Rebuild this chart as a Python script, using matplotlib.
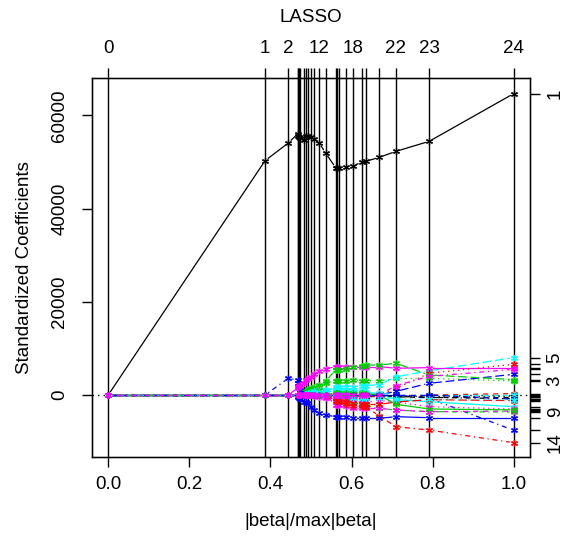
import numpy as np
import matplotlib
matplotlib.use("Agg")
import matplotlib.pyplot as plt

plt.rcParams['font.family'] = ['Liberation Sans', 'DejaVu Sans']

# ── Data: LASSO path (fraction of |beta| and standardized coefficients) ──
steps = [0, 0.3868, 0.4441, 0.4669, 0.4689, 0.4708, 0.4728, 0.4817, 0.4876,
         0.4932, 0.4999, 0.5080, 0.5203, 0.5358, 0.5613, 0.5653, 0.5694,
         0.5859, 0.6031, 0.6252, 0.6350, 0.6685, 0.7095, 0.7913, 1.0]

top_labels = {0: "0", 1: "1", 2: "2", 12: "12", 18: "18", 22: "22", 23: "23", 24: "24"}
right_labels = ["1", "5", "3", "9", "14"]

coefs = [
    [0, 50270, 54070, 56000, 55600, 55300, 55100, 54630, 55640, 55640, 55300, 54930, 54070,
     51920, 48700, 48700, 48750, 48990, 49190, 49900, 50120, 50980, 52270, 54410, 64660],
    [0, 0, 0, 0, 0, 0, 0, 0, 0, 0, 0, 0, 0,
     -300, -600, -600, -700, -700, -600, -500, -400, -300, 0, 0, 300],
    [0, 0, 0, 0, 0, 0, 0, 600, 900, 1200, 1500, 1800, 2200,
     2600, 3000, 3000, 3000, 3100, 3220, 3100, 3050, 3010, 3580, 3580, 3010],
    [0, 0, 3590, 3220, 2500, 1800, 1000, 0, 0, 0, 0, 0, 0,
     0, 0, 0, 0, 0, 0, 0, 0, 0, 0, -700, -7590],
    [0, 0, 0, 0, 0, 0, 0, 0, 0, 0, 0, 0, 0,
     800, 1790, 1790, 1800, 1790, 1790, 1900, 2000, 2200, 3900, 5200, 8020],
    [0, 0, 0, 1500, 1800, 2000, 2200, 2600, 3200, 3600, 3800, 4500, 5200,
     5600, 6090, 6090, 6090, 6090, 6090, 6090, 6090, 6090, 5730, 5870, 5870],
    [0, 0, 0, 0, 0, 0, 0, 0, 0, 0, 0, 0, 0,
     0, 0, 0, 0, 0, 0, 0, 0, 0, -400, -500, -500],
    [0, 0, 0, 0, 0, 0, 0, 0, 0, 0, 0, 0, 0,
     0, 0, 0, 0, 0, 0, 0, 0, 0, 1430, 4660, 6590],
    [0, 0, 0, 0, 0, 0, 0, 0, 0, 0, 0, 0, 0,
     0, 0, 0, 0, -1000, -1500, -2000, -2200, -2860, -3220, -3580, -3650],
    [0, 0, 0, 0, 0, 0, 0, 0, 0, 0, 0, 0, 0,
     0, 0, 0, 0, 0, 0, 0, 0, 0, 800, 2510, 4440],
    [0, 0, 0, 0, 0, 0, 0, 0, 300, 500, 700, 900, 1000,
     1100, 1200, 1200, 1200, 1100, 1000, 800, 600, 200, -1000, -1430, -2510],
    [0, 0, 0, 0, 0, 0, 0, 0, 0, 0, 0, 0, 0,
     0, -2150, -2150, -2200, -2360, -2860, -2860, -2860, -2860, -3220, -3580, -3450],
    [0, 0, 0, 0, 0, 0, 0, 0, 0, 0, 0, 0, 0,
     0, 0, 0, 0, 0, -300, -300, -300, -300, -200, -200, -200],
    [0, 0, 0, 0, 0, 0, 0, 0, 0, 0, 0, 0, 0,
     0, 0, -800, -1200, -2000, -2360, -2360, -2500, -4500, -6800, -7520, -10240],
    [0, 0, 0, 0, 0, 0, 0, 0, 0, 0, 0, 0, 1000,
     3000, 5370, 5370, 5400, 5500, 5900, 6200, 6400, 6440, 6800, 4300, 3300],
    [0, 0, 0, -200, -400, -600, -900, -1430, -1600, -1790, -2510, -3220, -3900,
     -4300, -4650, -4650, -4700, -4800, -5010, -5010, -5010, -5010, -4650, -4870, -4870],
    [0, 0, 0, 0, 0, 0, 0, 0, 0, 0, 300, 500, 600,
     700, 800, 800, 800, 700, 600, 500, 400, 400, 0, 0, 0],
    [0, 0, 0, 0, 0, 0, 0, 0, 0, 0, 0, -200, -500,
     -700, -900, -900, -900, -900, -1000, -1100, -1200, -1200, -1500, -2500, -3000],
    [0, 0, 0, 0, 0, 0, 0, 0, 0, 0, 0, 0, 0,
     0, 0, 0, 0, 0, 0, 0, -150, -150, -300, -500, -800],
    [0, 0, 0, 0, 0, 0, 0, 0, 0, 0, 0, 0, 0,
     0, -1200, -1300, -1400, -1600, -1800, -1900, -2000, -2000, -1500, -1000, -1200],
    [0, 0, 0, 0, 0, 0, 0, 0, 0, 0, 0, 0, 0,
     0, 500, 500, 500, 500, 500, 400, 300, 0, -2000, -3000, -3200],
    [0, 0, 0, 0, 0, 0, 0, 0, 0, 0, 0, 0, 0,
     0, 0, 0, 0, 0, 0, 0, 0, 0, 0, 0, -900],
    [0, 0, 0, 0, 0, 0, 0, 0, 0, 0, 0, 0, 0,
     0, 0, 0, 0, 0, -600, -600, -600, -700, -800, -900, -1000],
    [0, 0, 0, 0, 0, 0, 0, 0, 0, 0, 0, 0, 0,
     0, 0, 0, 0, 0, 0, 0, 0, 0, 2000, 4000, 5500],
]

# R default palette and line types, recycled like matplot()
palette = ["black", "#FF0000", "#00CD00", "#0000FF", "#00FFFF", "#FF00FF"]
ltys = ["-", (0, (4, 4)), (0, (1, 3)), (0, (1, 3, 4, 3)), (0, (7, 3))]

W, H = 566, 537
fig = plt.figure(figsize=(W / 100, H / 100), dpi=100)
ax = fig.add_axes([92 / W, 1 - 457 / H, (530 - 92) / W, (457 - 78) / H])

ax.set_xlim(-0.04, 1.04)
ax.set_ylim(-13300, 68000)

x = np.array(steps)
C = np.array(coefs, dtype=float)

# vertical lines at each step, dotted zero line
for s in steps:
    ax.axvline(s, color="black", lw=1.0, zorder=1)
ax.axhline(0, color="black", lw=1.0, linestyle=(0, (1, 3)), zorder=1)

# type="b": segments with a gap around every point
T = ax.transData
Tinv = T.inverted()
gap = 4.0
for i, row in enumerate(C):
    col = palette[i % 6]
    ls = ltys[i % 5]
    for j in range(len(x) - 1):
        p0 = T.transform((x[j], row[j]))
        p1 = T.transform((x[j + 1], row[j + 1]))
        d = p1 - p0
        L = np.hypot(*d)
        if L <= 2 * gap:
            continue
        u = d / L
        q = Tinv.transform(np.array([p0 + u * gap, p1 - u * gap]))
        ax.plot(q[:, 0], q[:, 1], color=col, lw=0.9, linestyle=ls, zorder=2)
    ax.plot(x, row, linestyle="none", marker=(6, 2, 0), ms=5, mew=0.9,
            color=col, zorder=3)

for sp in ax.spines.values():
    sp.set_linewidth(1.0)

fs = 13.5
ax.set_xticks([0, 0.2, 0.4, 0.6, 0.8, 1.0])
ax.set_xticklabels(["0.0", "0.2", "0.4", "0.6", "0.8", "1.0"])
ax.set_yticks([0, 20000, 40000, 60000])
ax.set_yticklabels(["0", "20000", "40000", "60000"], rotation=90, va="center")
ax.tick_params(length=7, width=1.0, labelsize=fs, pad=10)
ax.tick_params(axis="x", pad=7)

# top axis: step numbers
axt = ax.twiny()
axt.set_xlim(ax.get_xlim())
axt.set_xticks(steps)
axt.set_xticklabels([top_labels.get(k, "") for k in range(len(steps))])
axt.tick_params(length=7, width=1.0, labelsize=fs, pad=8)

# right axis: variable numbers at final coefficients
axr = ax.twinx()
axr.set_ylim(ax.get_ylim())
final = C[:, -1]
axr.set_yticks(final)
axr.set_yticklabels([str(k + 1) if str(k + 1) in right_labels else ""
                     for k in range(len(final))], rotation=90, va="center")
axr.tick_params(length=7, width=1.0, labelsize=fs, pad=5)

fig.text(311 / W, 1 - 18 / H, "LASSO", ha="center", va="center", fontsize=fs)
fig.text(311 / W, 1 - 522 / H, "|beta|/max|beta|", ha="center", va="center", fontsize=fs)
fig.text(25 / W, 1 - 268 / H, "Standardized Coefficients", ha="center", va="center",
         rotation=90, fontsize=fs)

fig.savefig("out.png", dpi=100)
